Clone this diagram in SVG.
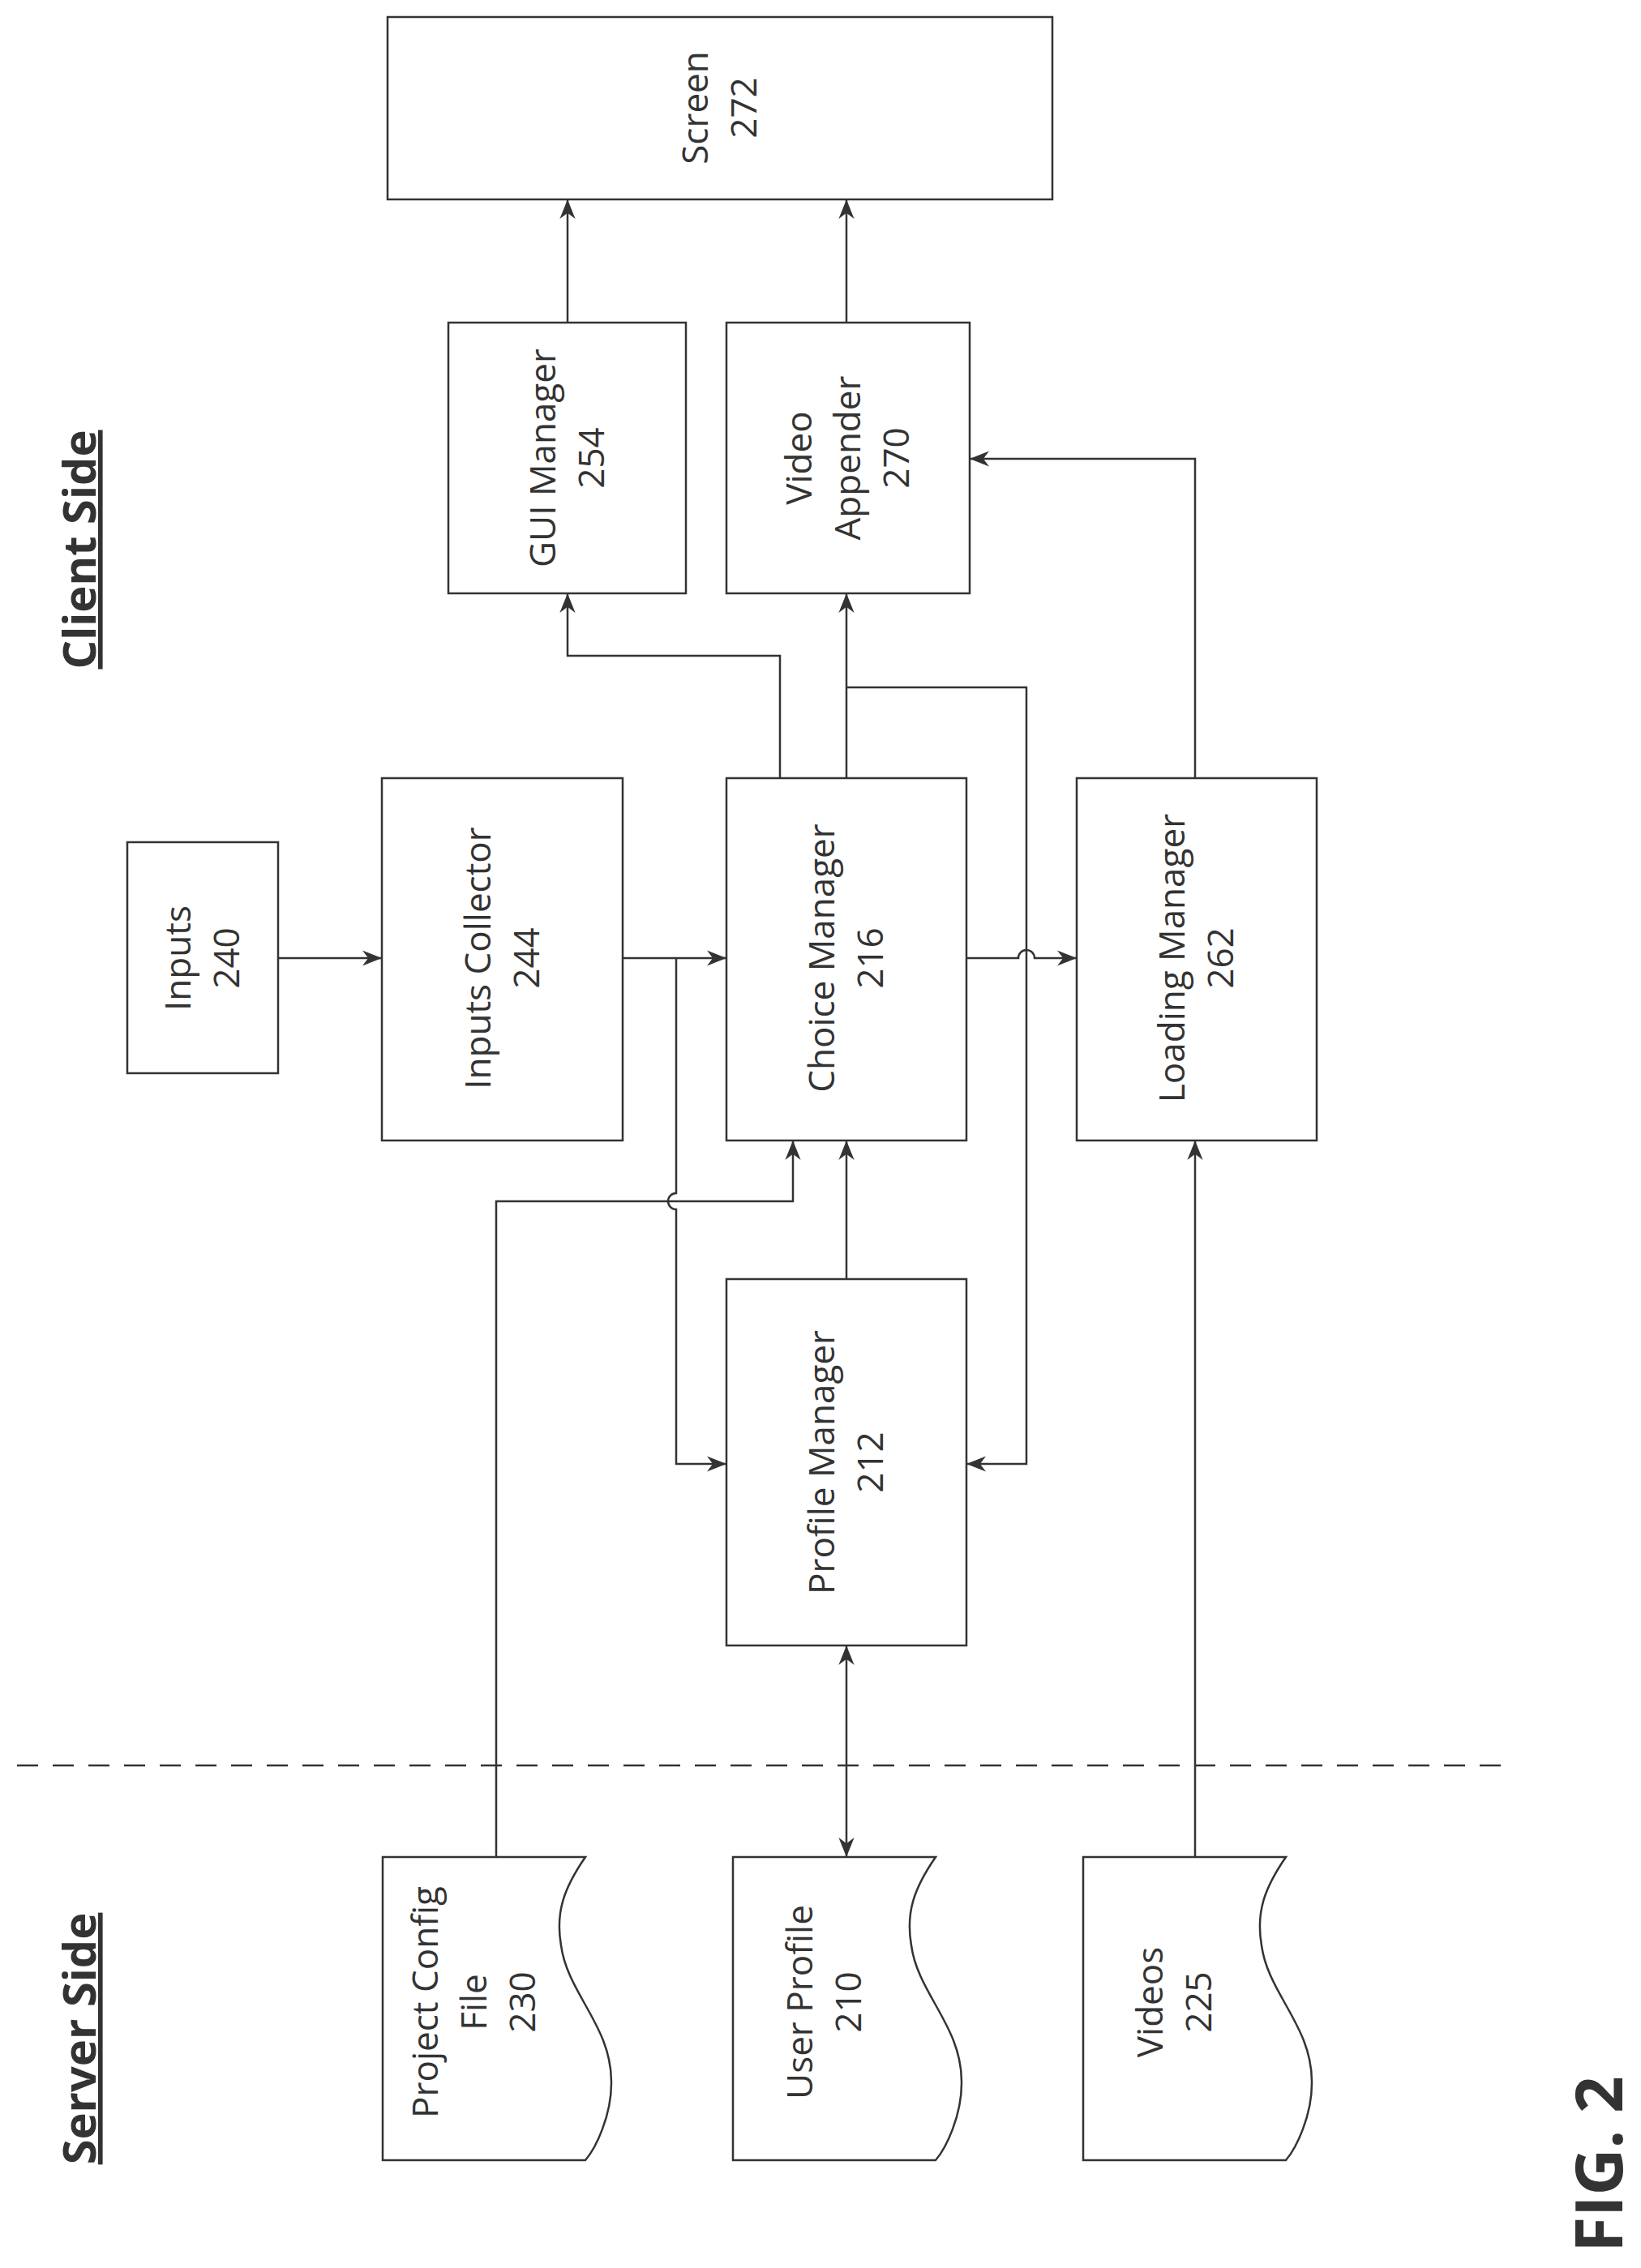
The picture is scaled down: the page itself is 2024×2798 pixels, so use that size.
<svg xmlns="http://www.w3.org/2000/svg" width="2024" height="2798" viewBox="0 0 2024 2798">
<style>
.b{fill:#fff;stroke:#333;stroke-width:2.5}
.t{font-family:"Open Sans",sans-serif;font-size:44px;fill:#333;text-anchor:middle}
.h{font-family:"Open Sans",sans-serif;font-size:56px;font-weight:bold;fill:#333;text-anchor:middle;text-decoration:underline}
.c{fill:none;stroke:#333;stroke-width:2.5}
</style>
<defs>
<marker id="m" viewBox="0 0 10 10" refX="10" refY="5" markerWidth="24" markerHeight="24" markerUnits="userSpaceOnUse" orient="auto-start-reverse"><path d="M0,1 L10,5 L0,9 L3,5 Z" fill="#333"/></marker>
</defs>
<text class="h" transform="translate(118,678) rotate(-90)">Client Side</text>
<text class="h" transform="translate(118,2515) rotate(-90)">Server Side</text>
<text transform="translate(2001,2670) rotate(-90)" style="font-family:'Open Sans',sans-serif;font-size:80px;font-weight:bold;fill:#333;text-anchor:middle">FIG. 2</text>
<line x1="21" y1="2178" x2="1856" y2="2178" stroke="#333" stroke-width="2.5" stroke-dasharray="26,18"/>
<g id="screen"><rect class="b" x="478" y="21" width="820" height="225"/><text class="t" transform="translate(888,133) rotate(-90)"><tspan x="0" y="-15">Screen</tspan><tspan x="0" dy="60">272</tspan></text></g>
<g id="gui"><rect class="b" x="553" y="398" width="293" height="334"/><text class="t" transform="translate(700,565) rotate(-90)"><tspan x="0" y="-15">GUI Manager</tspan><tspan x="0" dy="60">254</tspan></text></g>
<g id="appender"><rect class="b" x="896" y="398" width="300" height="334"/><text class="t" transform="translate(1046,565) rotate(-90)"><tspan x="0" y="-45">Video</tspan><tspan x="0" dy="60">Appender</tspan><tspan x="0" dy="60">270</tspan></text></g>
<g id="inputs"><rect class="b" x="157" y="1039" width="186" height="285"/><text class="t" transform="translate(250,1182) rotate(-90)"><tspan x="0" y="-15">Inputs</tspan><tspan x="0" dy="60">240</tspan></text></g>
<g id="collector"><rect class="b" x="471" y="960" width="297" height="447"/><text class="t" transform="translate(620,1182) rotate(-90)"><tspan x="0" y="-15">Inputs Collector</tspan><tspan x="0" dy="60">244</tspan></text></g>
<g id="choice"><rect class="b" x="896" y="960" width="296" height="447"/><text class="t" transform="translate(1044,1182) rotate(-90)"><tspan x="0" y="-15">Choice Manager</tspan><tspan x="0" dy="60">216</tspan></text></g>
<g id="loading"><rect class="b" x="1328" y="960" width="296" height="447"/><text class="t" transform="translate(1476,1182) rotate(-90)"><tspan x="0" y="-15">Loading Manager</tspan><tspan x="0" dy="60">262</tspan></text></g>
<g id="profile"><rect class="b" x="896" y="1578" width="296" height="452"/><text class="t" transform="translate(1044,1804) rotate(-90)"><tspan x="0" y="-15">Profile Manager</tspan><tspan x="0" dy="60">212</tspan></text></g>
<g id="config"><path class="b" d="M472,2291 L722,2291 C695,2330 685,2360 692,2400 C700,2460 755,2500 754,2570 C754,2610 735,2650 722,2665 L472,2665 Z"/><text class="t" transform="translate(585,2470) rotate(-90)"><tspan x="0" y="-45">Project Config</tspan><tspan x="0" dy="60">File</tspan><tspan x="0" dy="60">230</tspan></text></g>
<g id="userprofile"><path class="b" d="M904,2291 L1154,2291 C1127,2330 1117,2360 1124,2400 C1132,2460 1187,2500 1186,2570 C1186,2610 1167,2650 1154,2665 L904,2665 Z"/><text class="t" transform="translate(1017,2470) rotate(-90)"><tspan x="0" y="-15">User Profile</tspan><tspan x="0" dy="60">210</tspan></text></g>
<g id="videos"><path class="b" d="M1336,2291 L1586,2291 C1559,2330 1549,2360 1556,2400 C1564,2460 1619,2500 1618,2570 C1618,2610 1599,2650 1586,2665 L1336,2665 Z"/><text class="t" transform="translate(1449,2470) rotate(-90)"><tspan x="0" y="-15">Videos</tspan><tspan x="0" dy="60">225</tspan></text></g>
<g id="connectors" class="c">
<path class="c" d="M700,398 V246" marker-end="url(#m)"/>
<path class="c" d="M1044,398 V246" marker-end="url(#m)"/>
<path class="c" d="M962,960 V809 H700 V732" marker-end="url(#m)"/>
<path class="c" d="M1044,960 V732" marker-end="url(#m)"/>
<path class="c" d="M1044,848 H1266 V1806 H1192" marker-end="url(#m)"/>
<path class="c" d="M343,1182 H471" marker-end="url(#m)"/>
<path class="c" d="M768,1182 H896" marker-end="url(#m)"/>
<path class="c" d="M834,1182 V1472 A10,10 0 0 0 834,1492 V1806 H896" marker-end="url(#m)"/>
<path class="c" d="M612,2291 V1482 H978 V1407" marker-end="url(#m)"/>
<path class="c" d="M1044,1578 V1407" marker-end="url(#m)"/>
<path class="c" d="M1192,1182 H1256 A10,10 0 0 1 1276,1182 H1328" marker-end="url(#m)"/>
<path class="c" d="M1474,960 V566 H1196" marker-end="url(#m)"/>
<path class="c" d="M1474,2291 V1407" marker-end="url(#m)"/>
<path class="c" d="M1044,2030 V2291" marker-start="url(#m)" marker-end="url(#m)"/>
</g>
</svg>
